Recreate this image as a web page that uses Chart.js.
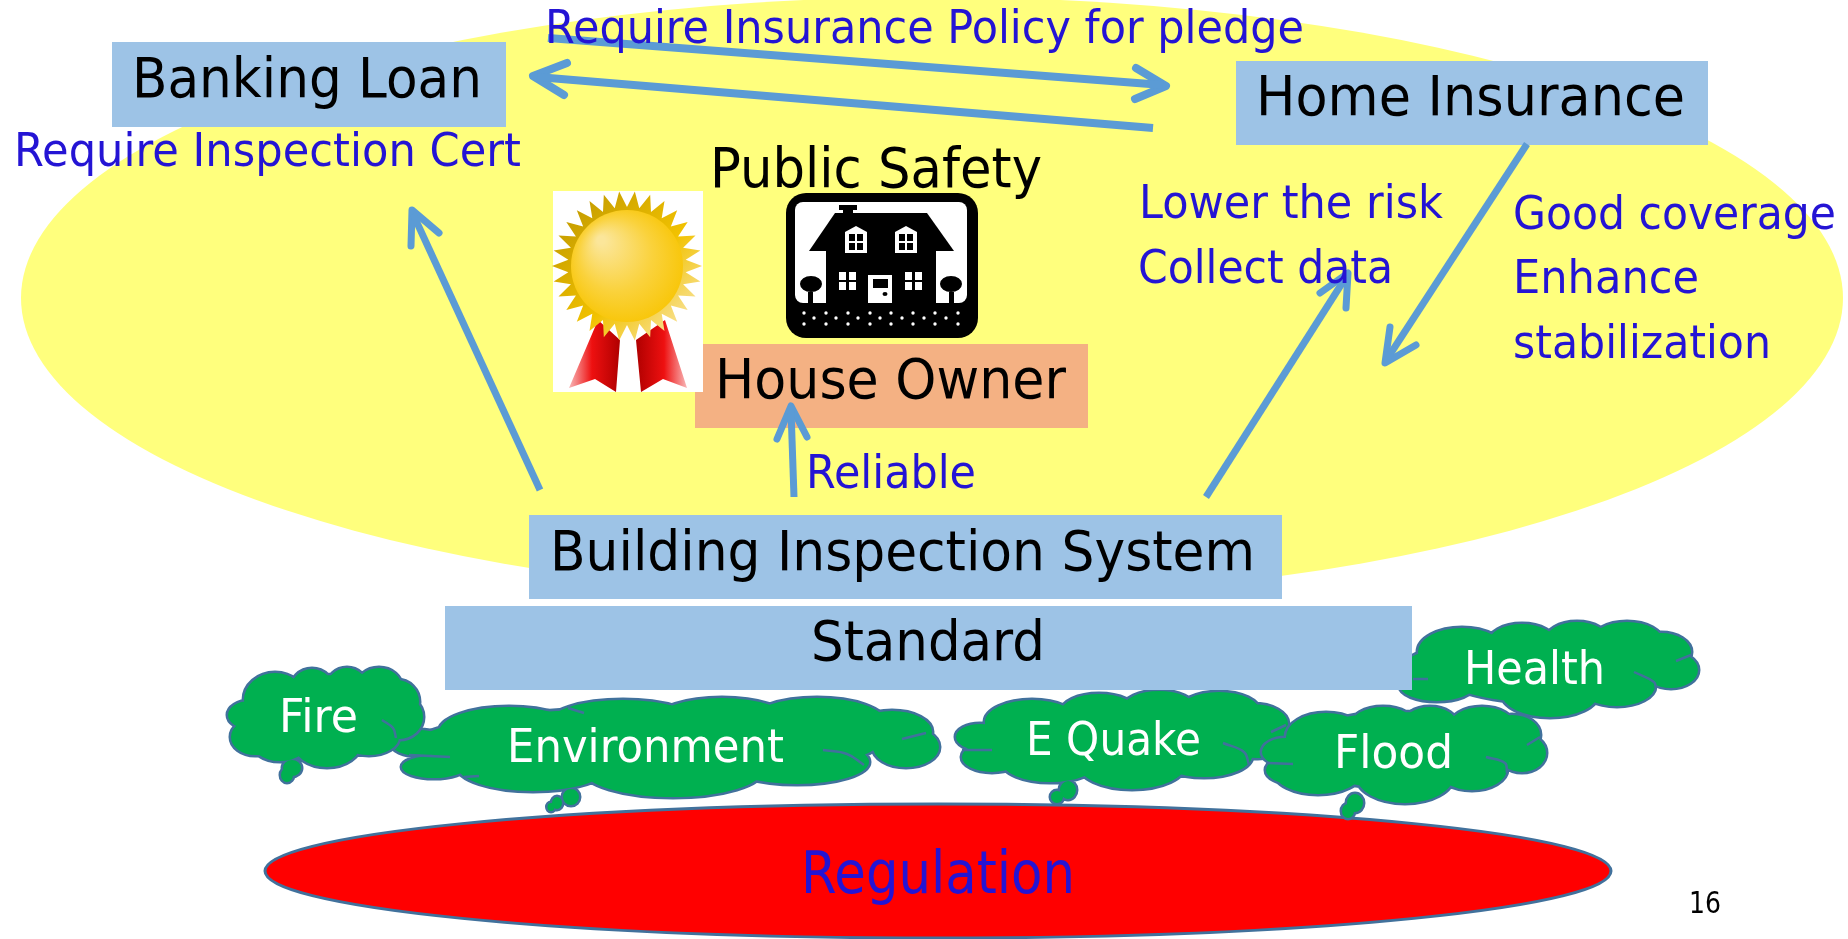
<!DOCTYPE html>
<html lang="en">
<head>
<meta charset="UTF-8">
<title>Building Inspection System</title>
<script src="https://cdn.jsdelivr.net/npm/chart.js"></script>
<style>
  html, body { margin: 0; padding: 0; background: #fff; }
  #wrap { width: 1848px; height: 939px; overflow: hidden; }
</style>
</head>
<body>
<div id="wrap"><canvas id="diagram" width="1848" height="939"></canvas></div>
<script>
const yellowOval = [932, 298, 911, 301];
const redOval = [938, 871, 673, 67];

// label box: left, top, right, bottom
const bankingBox = [112, 42, 506, 127];
const insuranceBox = [1236, 61, 1708, 145];
const ownerBox = [695, 344, 1088, 428];
const inspectionBox = [529, 515, 1282, 599];
const standardBox = [445, 606, 1412, 690];

// cloud lobes: cx, cy, rx, ry
const healthCloud = [[1462,652,44,24],[1522,643,34,19],[1577,641,32,19],[1627,642,36,20],[1661,652,30,19],[1671,670,27,18],[1617,686,38,20],[1550,694,48,23],[1437,686,37,15],[1428,667,22,15],[1547,667,115,36]];
const quakeCloud = [[1032,722,47,22],[1099,712,38,18],[1159,708,36,17],[1219,712,41,20],[1253,724,35,20],[1258,740,30,18],[1204,756,48,21],[1132,764,54,25],[1050,762,48,20],[992,757,30,15],[980,737,24,13],[1114,740,135,34],[1068,790,8,9],[1057,797,6,6]];
const envCloud = [[419,743,28,13],[434,767,32,11],[509,732,70,25],[623,724,76,24],[722,720,66,22],[817,722,68,24],[892,732,40,21],[906,747,33,20],[797,762,72,22],[673,770,90,27],[533,766,76,25],[648,743,230,35],[571,797,8,8],[557,803,5,6],[551,807,3.5,4]];
const fireCloud = [[275,700,31,27],[312,691,22,22],[347,687,20,19],[379,688,23,20],[397,702,22,22],[399,717,24,22],[369,737,30,18],[327,743,34,24],[280,740,30,21],[255,737,24,18],[250,715,22,14],[325,713,72,38],[292,768,9,8],[287,775,6,7]];
const floodCloud = [[1326,737,40,24],[1383,726,33,19],[1430,726,28,19],[1482,727,33,20],[1512,735,28,20],[1522,753,24,19],[1472,769,35,21],[1405,777,48,26],[1318,772,44,22],[1293,770,27,14],[1286,752,24,14],[1398,750,105,38],[1355,803,8,9],[1348,811,6,7]];

// arrows: shaft [from, to], head [wing, tip, wing]
const pledgeShaft = [[548,38],[1163,85]];
const pledgeHead = [[1136,68],[1166,86],[1135,99]];
const inspectCertShaft = [[1153,128],[537,77]];
const inspectCertHead = [[567,63],[533,76],[564,95]];
const loanShaft = [[540,490],[413,214]];
const loanHead = [[411,246],[412,210],[439,233]];
const ownerShaft = [[794,497],[791,410]];
const ownerHead = [[777,439],[791,406],[807,437]];
const dataShaft = [[1206,497],[1346,277]];
const dataHead = [[1320,293],[1348,273],[1346,308]];
const coverShaft = [[1527,144],[1387,359]];
const coverHead = [[1390,327],[1385,363],[1416,345]];

// short inner strokes of the clouds
const cloudCreases = [
  [[382,720],[393,728],[396,738]], [[823,750],[847,754],[864,765]], [[902,739],[926,733]],
  [[409,755],[450,757]], [[568,708],[584,713]], [[464,777],[479,776]],
  [[1223,743],[1244,752],[1249,765]], [[1271,732],[1286,725]], [[962,750],[992,750]],
  [[1486,757],[1505,763],[1507,773]], [[1527,745],[1540,737]], [[1268,763],[1293,764]],
  [[1634,672],[1654,682],[1656,688]], [[1676,661],[1691,655]], [[1413,679],[1428,679]]
];

// medal picture
const medalBack = [553, 191, 703, 392];
const medalCentre = [627, 266];
const medalRadii = [56, 75, 59];
const ribbonLeft = [[598,320],[620,340],[616,392],[595,379],[569,388]];
const ribbonRight = [[665,320],[687,388],[663,379],[641,392],[636,340]];

// house picture
const signOuter = [786, 193, 978, 338];
const signInner = [795, 202, 967, 303];
const houseBlack = [[[835,213],[927,213],[954,251],[809,251]], [[826,251],[936,251],[936,303],[826,303]], [[839,205],[857,205],[857,210],[839,210]], [[843,210],[853,210],[853,214],[843,214]]];
const dormers = [[[845,253],[845,232],[856,226],[867,232],[867,253]], [[895,253],[895,232],[906,226],[917,232],[917,253]]];
const blackPanes = [[849,234,855,241],[857,234,863,241],[849,243,855,250],[857,243,863,250],[899,234,905,241],[907,234,913,241],[899,243,905,250],[907,243,913,250],[873,279,888,288],[808,292,813,303],[949,292,954,303]];
const whitePanes = [[839,272,846,280],[849,272,856,280],[839,282,846,290],[849,282,856,290],[905,272,912,280],[915,272,922,280],[905,282,912,290],[915,282,922,290],[868,275,892,279],[868,288,892,303],[868,279,873,288],[888,279,892,288]];
const treeTops = [[811,284,11,8],[951,284,11,8],[885,294,2.5,2]];
const groundX = [804,826,848,870,891,913,935,958];
const groundMidX = [814,836,858,880,902,924,946];
const groundRows = [313,324];
const groundMidRow = 318;

// text: words, left, right, baseline, font size
const blackLabels = [
  ['Banking Loan', 132, 482, 97, 55], ['Home Insurance', 1256, 1685, 115, 55],
  ['Public Safety', 710, 1042, 187, 55], ['House Owner', 715, 1066, 398, 55],
  ['Building Inspection System', 550, 1255, 570, 55], ['Standard', 811, 1045, 660, 55],
  ['16', 1689, 1721, 913, 30]
];
const blueLabels = [
  ['Require Insurance Policy for pledge', 545, 1304, 43, 47], ['Require Inspection Cert', 14, 521, 166, 47],
  ['Lower the risk', 1139, 1443, 218, 47], ['Collect data', 1138, 1393, 283, 47],
  ['Good coverage', 1513, 1836, 229, 47], ['Enhance', 1513, 1699, 293, 47],
  ['stabilization', 1513, 1771, 358, 47], ['Reliable', 806, 976, 488, 47],
  ['Regulation', 801, 1075, 893, 58]
];
const whiteLabels = [
  ['Fire', 279, 358, 732, 47], ['Environment', 507, 784, 762, 47], ['E Quake', 1026, 1201, 755, 47],
  ['Flood', 1334, 1453, 768, 47], ['Health', 1464, 1605, 684, 47]
];

const BLUE = '#5B9BD5', EDGE = '#41719C', GREEN = '#00B050';

function toPoints(list) {
  return list.map(p => ({ x: p[0], y: p[1] }));
}

function arrowLine(list, width) {
  return { type: 'line', data: toPoints(list), borderColor: BLUE, borderWidth: width, pointRadius: 0, borderCapStyle: 'round', borderJoinStyle: 'round', fill: false, clip: false };
}

// shapes and words go through the chart scales like the datasets do
const slidePlugin = {
  id: 'slide',
  beforeDatasetsDraw(chart) {
    const c = chart.ctx, sx = chart.scales.x, sy = chart.scales.y;
    const X = v => sx.getPixelForValue(v), Y = v => sy.getPixelForValue(v);

    function oval(o) {
      c.moveTo(X(o[0]) + o[2], Y(o[1]));
      c.ellipse(X(o[0]), Y(o[1]), o[2], o[3], 0, 0, Math.PI * 2);
    }
    function box(b, color) {
      c.fillStyle = color;
      c.fillRect(X(b[0]), Y(b[1]), X(b[2]) - X(b[0]), Y(b[3]) - Y(b[1]));
    }
    function poly(list, color) {
      c.fillStyle = color;
      c.beginPath();
      list.forEach((p, i) => i ? c.lineTo(X(p[0]), Y(p[1])) : c.moveTo(X(p[0]), Y(p[1])));
      c.closePath();
      c.fill();
    }
    function rounded(b, r, color) {
      c.fillStyle = color;
      c.beginPath();
      c.roundRect(X(b[0]), Y(b[1]), X(b[2]) - X(b[0]), Y(b[3]) - Y(b[1]), r);
      c.fill();
    }
    function cloud(lobes) {
      c.strokeStyle = EDGE;
      c.lineWidth = 5;
      c.beginPath();
      lobes.forEach(oval);
      c.stroke();
      c.fillStyle = GREEN;
      c.beginPath();
      lobes.forEach(oval);
      c.fill();
    }

    c.save();
    c.fillStyle = '#FFFF7D';
    c.beginPath();
    oval(yellowOval);
    c.fill();

    c.fillStyle = '#FF0000';
    c.strokeStyle = EDGE;
    c.lineWidth = 3;
    c.beginPath();
    oval(redOval);
    c.fill();
    c.stroke();

    cloud(healthCloud);
    cloud(quakeCloud);
    cloud(envCloud);
    cloud(fireCloud);
    cloud(floodCloud);

    box(bankingBox, '#9DC3E6');
    box(insuranceBox, '#9DC3E6');
    box(inspectionBox, '#9DC3E6');
    box(standardBox, '#9DC3E6');
    box(ownerBox, '#F4B183');

    // medal
    box(medalBack, '#FFFFFF');
    let g = c.createLinearGradient(X(569), 0, X(620), 0);
    g.addColorStop(0, '#F8B8B8');
    g.addColorStop(0.45, '#EE1010');
    g.addColorStop(1, '#B00000');
    poly(ribbonLeft, g);
    g = c.createLinearGradient(X(636), 0, X(687), 0);
    g.addColorStop(0, '#B00000');
    g.addColorStop(0.55, '#EE1010');
    g.addColorStop(1, '#F8B8B8');
    poly(ribbonRight, g);
    const cx = X(medalCentre[0]), cy = Y(medalCentre[1]);
    g = c.createLinearGradient(cx - 50, cy - 50, cx + 50, cy + 50);
    g.addColorStop(0, '#C9A000');
    g.addColorStop(0.6, '#F2C200');
    g.addColorStop(1, '#F7DD80');
    c.fillStyle = g;
    c.beginPath();
    for (let i = 0; i < 60; i++) {
      const a = i * Math.PI / 30, r = i % 2 ? medalRadii[2] : medalRadii[1];
      c.lineTo(cx + r * Math.cos(a), cy + r * Math.sin(a));
    }
    c.closePath();
    c.fill();
    g = c.createRadialGradient(cx - 26, cy - 26, 4, cx, cy, medalRadii[0] + 8);
    g.addColorStop(0, '#FBE69A');
    g.addColorStop(0.55, '#FAD23C');
    g.addColorStop(1, '#F8C400');
    c.fillStyle = g;
    c.beginPath();
    oval([medalCentre[0], medalCentre[1], medalRadii[0], medalRadii[0]]);
    c.fill();

    // house sign
    rounded(signOuter, 20, '#000000');
    rounded(signInner, 8, '#FFFFFF');
    houseBlack.forEach(p => poly(p, '#000000'));
    dormers.forEach(p => poly(p, '#FFFFFF'));
    whitePanes.forEach(b => box(b, '#FFFFFF'));
    blackPanes.forEach(b => box(b, '#000000'));
    c.fillStyle = '#000000';
    c.beginPath();
    treeTops.forEach(oval);
    c.fill();
    c.restore();
  },
  afterDatasetsDraw(chart) {
    const c = chart.ctx, sx = chart.scales.x, sy = chart.scales.y;
    function words(list, color, family) {
      c.fillStyle = color;
      list.forEach(t => {
        c.font = t[4] + 'px ' + family;
        const left = sx.getPixelForValue(t[1]), wide = sx.getPixelForValue(t[2]) - left;
        c.save();
        c.translate(left, sy.getPixelForValue(t[3]));
        c.scale(wide / c.measureText(t[0]).width, 1);
        c.fillText(t[0], 0, 0);
        c.restore();
      });
    }
    c.save();
    c.textAlign = 'left';
    c.textBaseline = 'alphabetic';
    words(blackLabels, '#000000', '"DejaVu Sans"');
    words(blueLabels, '#2414D4', '"DejaVu Sans"');
    words(whiteLabels, '#FFFFFF', '"DejaVu Sans"');
    c.restore();
  }
};

const groundDots = [];
groundRows.forEach(y => groundX.forEach(x => groundDots.push({ x: x, y: y })));
groundMidX.forEach(x => groundDots.push({ x: x, y: groundMidRow }));

const datasets = [
  { type: 'scatter', data: groundDots, pointRadius: 1.7, pointBackgroundColor: '#FFFFFF', pointBorderWidth: 0, clip: false }
];
cloudCreases.forEach(m => datasets.push({ type: 'line', data: toPoints(m), borderColor: EDGE, borderWidth: 2.5, tension: 0.4, pointRadius: 0, fill: false, clip: false }));
[pledgeShaft, inspectCertShaft].forEach(a => datasets.push(Object.assign(arrowLine(a, 8), { borderCapStyle: 'butt' })));
[pledgeHead, inspectCertHead].forEach(a => datasets.push(arrowLine(a, 8)));
[loanShaft, ownerShaft, dataShaft, coverShaft].forEach(a => datasets.push(Object.assign(arrowLine(a, 7), { borderCapStyle: 'butt' })));
[loanHead, ownerHead, dataHead, coverHead].forEach(a => datasets.push(arrowLine(a, 7)));

new Chart(document.getElementById('diagram'), {
  type: 'scatter',
  data: { datasets: datasets },
  plugins: [slidePlugin],
  options: {
    responsive: false,
    animation: false,
    layout: { padding: 0, autoPadding: false },
    plugins: { legend: { display: false }, tooltip: { enabled: false } },
    scales: {
      x: { type: 'linear', min: 0, max: 1848, display: false },
      y: { type: 'linear', min: 0, max: 939, reverse: true, display: false }
    }
  }
});
</script>
</body>
</html>
